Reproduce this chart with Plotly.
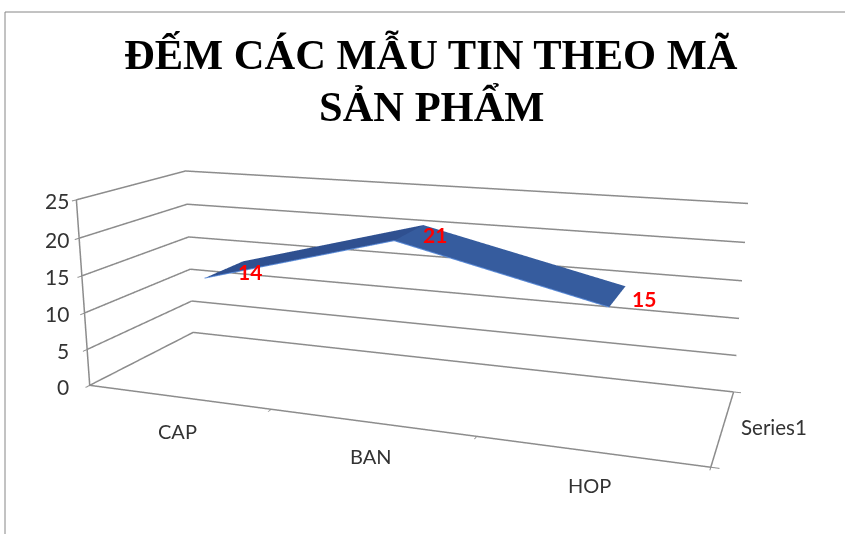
import plotly.graph_objects as go

categories = ["CAP", "BAN", "HOP"]
values = [14, 21, 15]
series_name = "Series1"
title_lines = ["ĐẾM CÁC MẪU TIN THEO MÃ", "SẢN PHẨM"]
z_ticks = [0, 5, 10, 15, 20, 25]

GRAY = "#8c8c8c"
TEXT = "#333333"
Y_FRONT, Y_BACK = 0.3, 0.7
PAGE_W, LAYOUT_H, TOP_CUT = 845, 974, 180
SCENE_W = 805


def px(x):
    return x / PAGE_W


def py(y):
    return 1 - (y + TOP_CUT) / LAYOUT_H


xs = [i + 0.5 for i in range(len(categories))]
x_max = len(categories)
z_max = z_ticks[-1]

vx, vy, vz = [], [], []
for x, v in zip(xs, values):
    vx += [x, x]
    vy += [Y_FRONT, Y_BACK]
    vz += [v, v]
ti, tj, tk, fc = [], [], [], []
seg_colors = ["#2f5090", "#365c9e"]
for s in range(len(values) - 1):
    a = 2 * s
    ti += [a, a]
    tj += [a + 1, a + 3]
    tk += [a + 3, a + 2]
    fc += [seg_colors[s], seg_colors[s]]

ribbon = go.Mesh3d(x=vx, y=vy, z=vz, i=ti, j=tj, k=tk, facecolor=fc, flatshading=True,
                   lighting=dict(ambient=1, diffuse=0, specular=0, roughness=1, fresnel=0),
                   hoverinfo="skip", showscale=False)
edge = go.Scatter3d(x=xs, y=[Y_FRONT] * len(xs), z=values, mode="lines",
                    line=dict(color="#5b8bd8", width=2), hoverinfo="skip", showlegend=False)

# walls and floor outline, heavier than the thin native 3D grid
gx, gy, gz = [], [], []
for t in z_ticks:
    gx += [0, 0, x_max, None]
    gy += [0, 1, 1, None]
    gz += [t, t, t, None]
gx += [0, x_max, x_max, None, 0, 0]
gy += [0, 0, 1, None, 0, 0]
gz += [0, 0, 0, None, 0, z_max]
frame = go.Scatter3d(x=gx, y=gy, z=gz, mode="lines", connectgaps=False,
                     line=dict(color=GRAY, width=3), hoverinfo="skip", showlegend=False)

annots = []
for x, v in zip(xs, values):
    annots.append(dict(x=x, y=0.5, z=v, text=f"<b>{v}</b>", showarrow=False, xshift=26, yshift=-2,
                       font=dict(family="Lato", size=21, color="#ff0000")))
for x, c in zip(xs, categories):
    annots.append(dict(x=x, y=0, z=0, text=c, showarrow=False, yshift=-34,
                       font=dict(family="Lato", size=20, color=TEXT)))
annots.append(dict(x=x_max, y=0.5, z=0, text=series_name, showarrow=False, xshift=51, yshift=-1,
                   font=dict(family="Lato", size=20.5, color=TEXT)))
for t in z_ticks:
    annots.append(dict(x=0, y=0, z=t, text=str(t), showarrow=False, xanchor="right",
                       xshift=-19 + 13.5 * t / z_max, yshift=-1,
                       font=dict(family="Lato", size=21, color=TEXT)))

axis_common = dict(showbackground=False, title=dict(text=""), zeroline=False, showticklabels=False,
                   showspikes=False, showline=False, showgrid=False,
                   ticks="outside", ticklen=6, tickcolor=GRAY, tickwidth=2)

title_annots = [
    dict(xref="paper", yref="paper", x=px(431), y=py(yc), text=line, showarrow=False, yanchor="top",
         font=dict(family="Liberation Serif", size=42.5, color="#000000", weight="bold"))
    for line, yc in zip(title_lines, (28, 80))
]

fig = go.Figure([frame, ribbon, edge])
fig.update_layout(
    width=PAGE_W, height=LAYOUT_H, margin=dict(l=0, r=0, t=0, b=0),
    paper_bgcolor="white", showlegend=False, hovermode=False,
    annotations=title_annots,
    scene=dict(
        domain=dict(x=[0, SCENE_W / PAGE_W], y=[0, 1]),
        aspectmode="manual", aspectratio=dict(x=1, y=0.3356, z=0.3095),
        camera=dict(eye=dict(x=0.6257, y=-1.7161, z=0.4693), center=dict(x=0.2894, y=-0.8101, z=0.2123),
                    up=dict(x=0, y=0, z=1), projection=dict(type="perspective")),
        xaxis=dict(range=[0, x_max], tickvals=list(range(x_max + 1)), **axis_common),
        yaxis=dict(range=[0, 1], tickvals=[0, 1], **axis_common),
        zaxis=dict(range=[0, z_max], tickvals=z_ticks, **axis_common),
        annotations=annots,
    ),
    shapes=[
        dict(type="line", xref="paper", yref="paper", x0=px(5), x1=1, y0=py(12), y1=py(12),
             line=dict(color="#868686", width=1)),
        dict(type="line", xref="paper", yref="paper", x0=px(5), x1=px(5), y0=py(534), y1=py(12),
             line=dict(color="#868686", width=1)),
    ],
)
post = f"""
document.documentElement.style.overflow='hidden';
document.body.style.margin='0';
document.body.style.overflow='hidden';
document.getElementById('{{plot_id}}').style.marginTop='-{TOP_CUT}px';
"""
fig.write_html("out.html", post_script=post)
